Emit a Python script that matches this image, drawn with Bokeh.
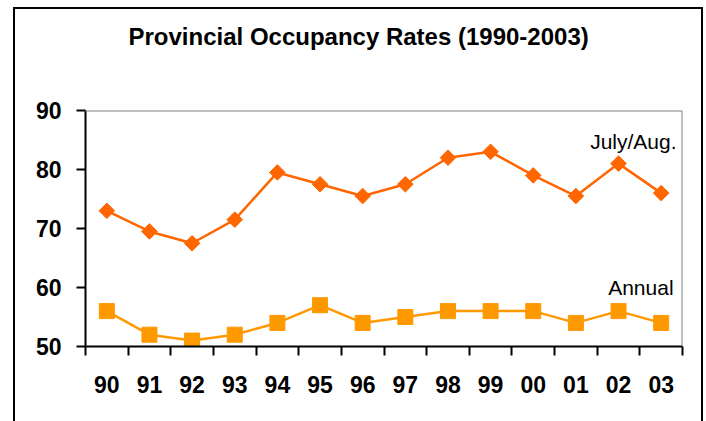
from bokeh.plotting import figure
from bokeh.models import FixedTicker, Label, Range1d, Span, InlineStyleSheet
from bokeh.embed import file_html
from bokeh.resources import INLINE

# ---- data ----
years = ["90", "91", "92", "93", "94", "95", "96", "97", "98", "99", "00", "01", "02", "03"]
july_aug = [73, 69.5, 67.5, 71.5, 79.5, 77.5, 75.5, 77.5, 82, 83, 79, 75.5, 81, 76]
annual = [56, 52, 51, 52, 54, 57, 54, 55, 56, 56, 56, 54, 56, 54]
y_ticks = [50, 60, 70, 80, 90]
title_text = "Provincial Occupancy Rates (1990-2003)"

FONT = "Liberation Sans"
n = len(years)
xs = [i + 0.5 for i in range(n)]

frame_css = InlineStyleSheet(css="""
:host { position: relative; }
:host::after {
  content: ""; position: absolute; left: 13px; top: 7px; width: 690px; height: 414px;
  border-left: 2px solid black; border-right: 2px solid black; border-top: 2px solid black;
  box-sizing: border-box; pointer-events: none;
}
""")

p = figure(width=706, height=421, output_backend="svg", toolbar_location=None,
           x_range=Range1d(0, n), y_range=Range1d(50, 90),
           min_border_left=85, min_border_right=24, min_border_top=110, min_border_bottom=75,
           stylesheets=[frame_css])

p.background_fill_color = "white"
p.border_fill_color = "white"
p.outline_line_color = None
p.xgrid.visible = False
p.ygrid.visible = False

# title
p.title.text = title_text
p.title.text_font = FONT
p.title.text_font_size = "24px"
p.title.text_font_style = "bold"
p.title.text_color = "black"
p.title.align = "left"
p.title.offset = 43
p.title.vertical_align = "bottom"
p.title.standoff = 0
p.title.padding = dict(top=0, right=0, bottom=61, left=0)

# gray frame edges (top and right)
p.add_layout(Span(location=90, dimension="width", line_color="#808080", line_width=2))
p.add_layout(Span(location=n, dimension="height", line_color="#808080", line_width=2))

# x axis
xa = p.xaxis[0]
xa.ticker = FixedTicker(ticks=xs, minor_ticks=list(range(n + 1)))
xa.major_label_overrides = {x: y for x, y in zip(xs, years)}
xa.major_tick_out = 0
xa.major_tick_in = 0
xa.minor_tick_out = 9
xa.minor_tick_in = 0
xa.minor_tick_line_color = "black"
xa.minor_tick_line_width = 2
xa.axis_line_color = "black"
xa.axis_line_width = 2
xa.major_label_standoff = 20
xa.major_label_text_font = FONT
xa.major_label_text_font_size = "23px"
xa.major_label_text_font_style = "bold"
xa.major_label_text_color = "black"

# y axis
ya = p.yaxis[0]
ya.ticker = FixedTicker(ticks=y_ticks, minor_ticks=[])
ya.major_tick_out = 9
ya.major_tick_in = 0
ya.major_tick_line_color = "black"
ya.major_tick_line_width = 2
ya.axis_line_color = "black"
ya.axis_line_width = 2
ya.major_label_standoff = 15
ya.major_label_text_font = FONT
ya.major_label_text_font_size = "23px"
ya.major_label_text_font_style = "bold"
ya.major_label_text_color = "black"

# series
p.line(xs, july_aug, line_color="#FF6600", line_width=2.5)
p.scatter(xs, july_aug, marker="square", angle=0.785398, size=11,
          fill_color="#FF6600", line_color="#FF6600")
p.line(xs, annual, line_color="#FF9900", line_width=2.5)
p.scatter(xs, annual, marker="square", size=15,
          fill_color="#FF9900", line_color="#FF9900")

p.add_layout(Label(x=13.86, y=84.8, text="July/Aug.", text_align="right",
                   text_baseline="alphabetic", text_font=FONT,
                   text_font_size="21px", text_color="black"))
p.add_layout(Label(x=13.79, y=60.0, text="Annual", text_align="right",
                   text_baseline="alphabetic", text_font=FONT,
                   text_font_size="21px", text_color="black"))

open("out.html", "w").write(file_html(p, INLINE))
